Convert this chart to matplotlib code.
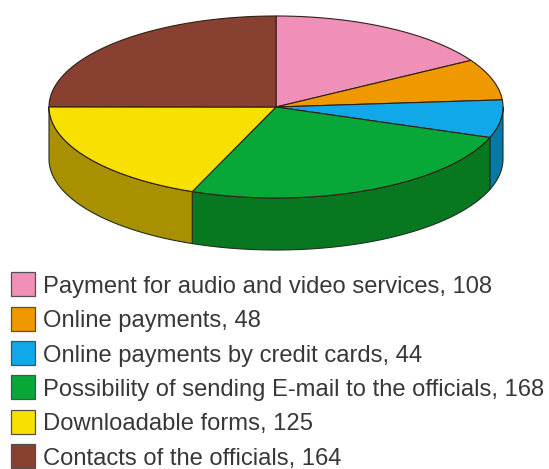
import numpy as np
import matplotlib
matplotlib.use("Agg")
import matplotlib.pyplot as plt
from matplotlib.patches import Polygon, Rectangle

categories = [
    "Payment for audio and video services",
    "Online payments",
    "Online payments by credit cards",
    "Possibility of sending E-mail to the officials",
    "Downloadable forms",
    "Contacts of the officials",
]
values = [108, 48, 44, 168, 125, 164]
top_colors = ["#F090B8", "#F09800", "#10A8E8", "#08A838", "#F8E000", "#884030"]
side_colors = ["#A86080", "#A86800", "#0878A8", "#087820", "#A89000", "#602818"]

W, H = 549, 469
fig = plt.figure(figsize=(W / 100, H / 100), dpi=100, facecolor="white")
ax = fig.add_axes([0, 0, 1, 1])
ax.set_xlim(0, W)
ax.set_ylim(H, 0)
ax.axis("off")

# Pie geometry in pixels: centre, radii of the top ellipse, wall height
cx, cy, rx, ry, depth = 276.0, 107.0, 227.0, 91.0, 52.0


def rim(start, stop):
    """Points on the top ellipse; angles run clockwise from twelve o'clock, in degrees."""
    n = max(int(abs(stop - start)) * 2, 2)
    t = np.radians(np.linspace(start, stop, n))
    return np.column_stack([cx + rx * np.sin(t), cy - ry * np.cos(t)])


edges = np.concatenate([[0], np.cumsum(values)]) * 360.0 / sum(values)

# Outer walls: only the part of each slice facing the viewer (90 to 270 degrees)
for a, b, col in zip(edges[:-1], edges[1:], side_colors):
    lo, hi = max(a, 90), min(b, 270)
    if lo < hi:
        upper = rim(lo, hi)
        lower = upper[::-1] + [0, depth]
        ax.add_patch(Polygon(np.vstack([upper, lower]), closed=True, facecolor=col,
                             edgecolor="#203020", linewidth=0.8, joinstyle="round"))

# Top faces
for a, b, col in zip(edges[:-1], edges[1:], top_colors):
    pts = np.vstack([[cx, cy], rim(a, b)])
    ax.add_patch(Polygon(pts, closed=True, facecolor=col, edgecolor="#302018",
                         linewidth=0.8, joinstyle="round"))

# Key below the pie
row0, row_step = 284.5, 34.3
for i, (name, val, col) in enumerate(zip(categories, values, top_colors)):
    y = row0 + i * row_step
    ax.add_patch(Rectangle((10.5, y - 12), 24.5, 24, facecolor=col,
                           edgecolor="#505050", linewidth=0.9))
    ax.text(43, y + 2.5, f"{name}, {val}", family="Liberation Sans", fontsize=17.1,
            color="#383838", va="center", ha="left")

fig.savefig("out.png", dpi=100)
